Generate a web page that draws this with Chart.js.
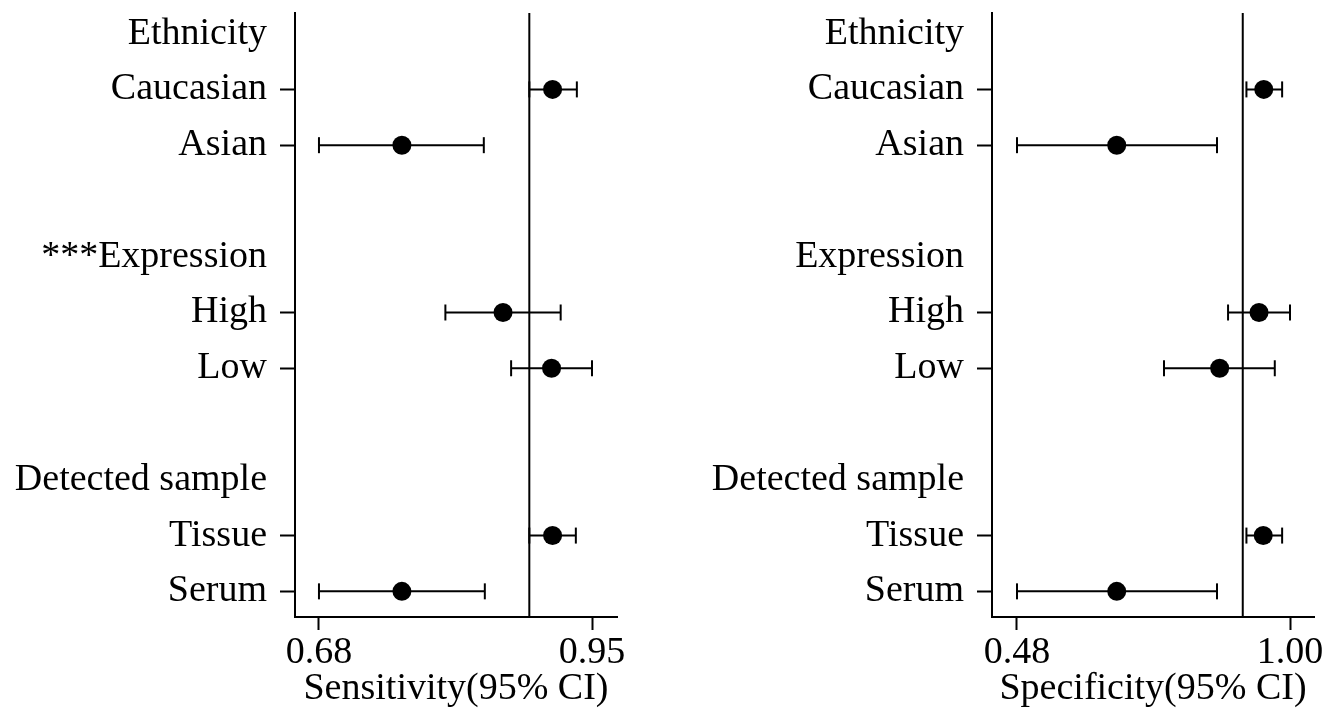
<!DOCTYPE html>
<html>
<head>
<meta charset="utf-8">
<script src="https://cdn.jsdelivr.net/npm/chart.js@4"></script>
<style>
  body { margin: 0; background: #fff; }
  .panel { position: absolute; top: 0; height: 714px; }
</style>
</head>
<body>
<div class="panel" style="left:0;width:660px"><canvas id="sensChart" width="660" height="714"></canvas></div>
<div class="panel" style="left:660px;width:665px"><canvas id="specChart" width="665" height="714"></canvas></div>
<script>
// rows of the forest plot (0 = top), headers carry no tick mark
const rowLabelsSens = ['Ethnicity', 'Caucasian', 'Asian', '', '***Expression', 'High', 'Low', '', 'Detected sample', 'Tissue', 'Serum'];
const rowLabelsSpec = ['Ethnicity', 'Caucasian', 'Asian', '', 'Expression', 'High', 'Low', '', 'Detected sample', 'Tissue', 'Serum'];
const headerRows = [0, 4, 8];
const subgroupRows = [1, 2, 5, 6, 9, 10];

// sensitivity (point estimate, 95% CI)
const sensEst = [0.911, 0.762, 0.862, 0.910, 0.911, 0.762];
const sensLow = [0.888, 0.680, 0.805, 0.870, 0.888, 0.680];
const sensHigh = [0.935, 0.843, 0.919, 0.950, 0.934, 0.844];
const sensPooled = 0.888;
const sensTicks = [0.68, 0.95];

// specificity (point estimate, 95% CI)
const specEst = [0.950, 0.670, 0.941, 0.866, 0.949, 0.670];
const specLow = [0.917, 0.480, 0.882, 0.760, 0.917, 0.480];
const specHigh = [0.985, 0.861, 1.000, 0.971, 0.985, 0.861];
const specPooled = 0.910;
const specTicks = [0.48, 1.00];

const yMin = -0.37;
const yMax = 10.46;
const font38 = { family: 'Liberation Serif', size: 38, lineHeight: 1.2 };

function makeForest(canvasId, labels, est, low, high, pooled, xTicks, xMin, xMax, xTitle, axisWidth, rightPad) {
	// points first so they are drawn on top of the CI lines
	let datasets = [{
		data: subgroupRows.map((r, i) => ({ x: est[i], y: r })),
		pointRadius: 9.5,
		pointBackgroundColor: '#000',
		pointBorderColor: '#000',
		pointBorderWidth: 0,
		showLine: false,
	}];
	subgroupRows.forEach((r, i) => {
		datasets.push({
			data: [{ x: low[i], y: r }, { x: high[i], y: r }],
			showLine: true,
			borderColor: '#000',
			borderWidth: 2,
			pointStyle: 'line',
			rotation: 90,
			pointRadius: 8,
			pointBorderWidth: 2,
			pointBorderColor: '#000',
		});
	});
	// vertical reference line at the pooled value
	datasets.push({
		data: [{ x: pooled, y: yMin }, { x: pooled, y: yMax }],
		showLine: true,
		borderColor: '#000',
		borderWidth: 2,
		pointRadius: 0,
	});

	return new Chart(document.getElementById(canvasId), {
		type: 'scatter',
		data: { datasets: datasets },
		options: {
			responsive: false,
			animation: false,
			layout: { padding: { top: 13, right: rightPad, bottom: 0, left: 0 } },
			plugins: { legend: { display: false }, tooltip: { enabled: false } },
			scales: {
				x: {
					min: xMin,
					max: xMax,
					afterBuildTicks: s => { s.ticks = xTicks.map(v => ({ value: v })); },
					afterFit: s => { s.height = 97; s.paddingLeft = 0; s.paddingRight = 0; },
					ticks: { font: font38, color: '#000', padding: 0, maxRotation: 0, callback: v => v.toFixed(2) },
					grid: { drawOnChartArea: false, color: '#000', tickLength: 13, tickWidth: 2 },
					border: { color: '#000', width: 2 },
					title: { display: true, text: xTitle, font: font38, color: '#000', padding: { top: 0, bottom: 2 } },
				},
				y: {
					reverse: true,
					min: yMin,
					max: yMax,
					afterBuildTicks: s => { s.ticks = labels.map((l, i) => ({ value: i })).filter(t => labels[t.value] !== ''); },
					afterFit: s => { s.width = axisWidth; s.paddingTop = 0; s.paddingBottom = 0; },
					ticks: { font: font38, color: '#000', padding: 13, autoSkip: false, callback: v => labels[v] },
					grid: {
						drawOnChartArea: false,
						tickLength: 15,
						tickWidth: 2,
						color: '#000',
						tickColor: ctx => headerRows.includes(ctx.tick.value) ? 'rgba(0,0,0,0)' : '#000',
					},
					border: { color: '#000', width: 2 },
				},
			},
		},
	});
}

makeForest('sensChart', rowLabelsSens, sensEst, sensLow, sensHigh, sensPooled, sensTicks, 0.6563, 0.9747, 'Sensitivity(95% CI)', 295, 43);
makeForest('specChart', rowLabelsSpec, specEst, specLow, specHigh, specPooled, specTicks, 0.4324, 1.0457, 'Specificity(95% CI)', 332, 11);
</script>
</body>
</html>
